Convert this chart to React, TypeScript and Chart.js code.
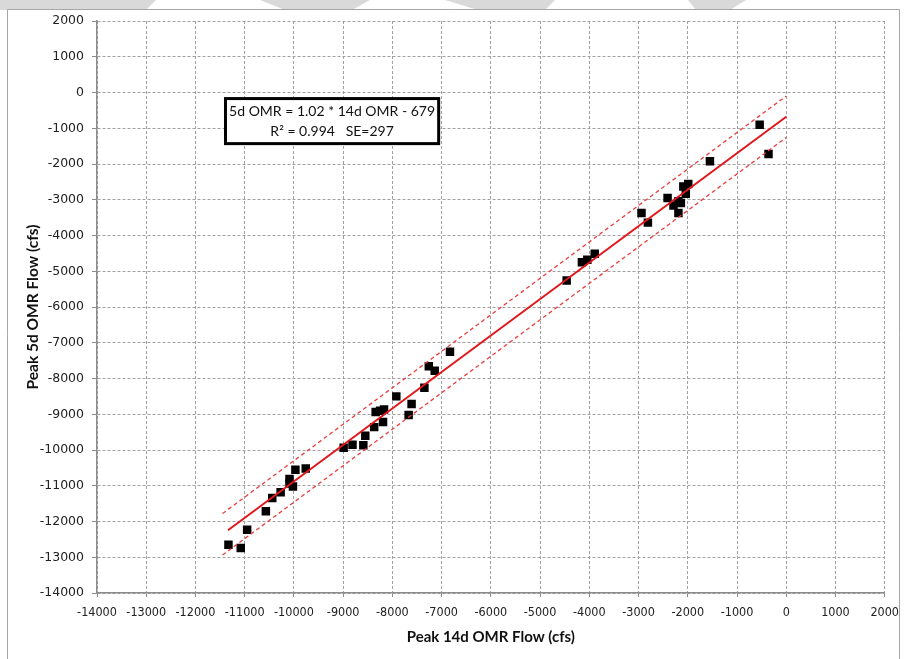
import React, { useEffect, useRef } from "react";
import { Chart, registerables } from "chart.js";

Chart.register(...registerables);

// Peak 14d OMR flow (cfs) — x values
const X_14D = [
  -11330, -11080, -10950, -10570, -10440, -10270, -10020, -10090, -10090, -9970, -9760,
  -8990, -8810, -8590, -8550, -8370, -8190, -8340, -8250, -8170, -7920, -7670, -7610,
  -7350, -7260, -7140, -6830,
  -4460, -4150, -4040, -3890,
  -2940, -2810, -2410, -2290, -2190, -2140, -2190, -2090, -1990, -2040,
  -1550, -540, -360,
];
// Peak 5d OMR flow (cfs) — y values
const Y_5D = [
  -12650, -12740, -12230, -11710, -11340, -11180, -11020, -10810, -10940, -10550, -10520,
  -9940, -9850, -9870, -9600, -9360, -9220, -8940, -8900, -8870, -8500, -9020, -8710,
  -8260, -7660, -7780, -7250,
  -5260, -4750, -4680, -4510,
  -3370, -3640, -2950, -3160, -3040, -3090, -3370, -2630, -2560, -2830,
  -1920, -900, -1720,
];

// Regression as printed on the chart
const TREND_SLOPE = 1.02;
const TREND_INTERCEPT = -679;
const TREND_X = [-11340, 0];
const BAND_X = [-11450, 0];
const BAND_HALF_WIDTH = 580;

const EQ_LINE_1 = "5d OMR = 1.02 * 14d OMR - 679";
const EQ_LINE_2 = "R\u00B2 = 0.994   SE=297";
// annotation box anchor (data units)
const BOX_X = [-11390, -7060];
const BOX_Y = [-170, -1430];

const X_TICK_MIN = -14000;
const X_TICK_MAX = 2000;
const Y_TICK_MIN = -14000;
const Y_TICK_MAX = 2000;
const TICK_STEP = 1000;

const X_TITLE = "Peak 14d OMR Flow (cfs)";
const Y_TITLE = "Peak 5d OMR Flow (cfs)";

const trend = (x: number) => TREND_SLOPE * x + TREND_INTERCEPT;
const plain = (v: any) => String(v);

export default function App() {
  const ref = useRef<HTMLCanvasElement>(null);

  useEffect(() => {
    document.body.style.margin = "0";
    const canvas = ref.current!;
    const points = X_14D.map((x, i) => ({ x, y: Y_5D[i] }));

    const framePlugin = {
      id: "frame",
      beforeDraw(chart: any) {
        const ctx = chart.ctx;
        ctx.save();
        ctx.fillStyle = "#ffffff";
        ctx.fillRect(0, 0, chart.width, chart.height);
        // faint watermark pieces at top edge
        ctx.fillStyle = "#d9d9d9";
        const shapes = [
          [[0, 0], [156, 0], [146, 10], [0, 10]],
          [[260, 0], [370, 0], [352, 10], [285, 10]],
          [[445, 0], [555, 0], [545, 10], [478, 10]],
          [[688, 0], [746, 0], [730, 10], [696, 10]],
        ];
        for (const s of shapes) {
          ctx.beginPath();
          ctx.moveTo(s[0][0], s[0][1]);
          for (let k = 1; k < s.length; k++) ctx.lineTo(s[k][0], s[k][1]);
          ctx.closePath();
          ctx.fill();
        }
        ctx.strokeStyle = "#a6a6a6";
        ctx.lineWidth = 1;
        ctx.beginPath();
        ctx.moveTo(7.5, chart.height);
        ctx.lineTo(7.5, 9.5);
        ctx.lineTo(899.5, 9.5);
        ctx.lineTo(899.5, chart.height);
        ctx.stroke();
        ctx.restore();
      },
    };

    const boxPlugin = {
      id: "eqbox",
      afterDatasetsDraw(chart: any) {
        const ctx = chart.ctx;
        const xs = chart.scales.x;
        const ys = chart.scales.y;
        const l = xs.getPixelForValue(BOX_X[0]);
        const r = xs.getPixelForValue(BOX_X[1]);
        const t = ys.getPixelForValue(BOX_Y[0]);
        const b = ys.getPixelForValue(BOX_Y[1]);
        ctx.save();
        ctx.fillStyle = "#ffffff";
        ctx.fillRect(l, t, r - l, b - t);
        ctx.strokeStyle = "#000000";
        ctx.lineWidth = 3;
        ctx.strokeRect(l, t, r - l, b - t);
        ctx.fillStyle = "#111111";
        ctx.textAlign = "center";
        ctx.textBaseline = "middle";
        const cx = (l + r) / 2;
        const h = b - t;
        ctx.font = "14px Lato, sans-serif";
        ctx.fillText(EQ_LINE_1, cx, t + h * 0.28);
        ctx.fillText(EQ_LINE_2, cx, t + h * 0.72);
        ctx.restore();
      },
    };

    const chart = new Chart(canvas, {
      type: "scatter",
      data: {
        datasets: [
          {
            type: "line",
            data: TREND_X.map((x) => ({ x, y: trend(x) })),
            borderColor: "#e3161b",
            borderWidth: 2,
            pointRadius: 0,
            fill: false,
          },
          {
            type: "line",
            data: BAND_X.map((x) => ({ x, y: trend(x) + BAND_HALF_WIDTH })),
            borderColor: "#ec3c3c",
            borderWidth: 1.3,
            borderDash: [4, 3],
            pointRadius: 0,
            fill: false,
          },
          {
            type: "line",
            data: BAND_X.map((x) => ({ x, y: trend(x) - BAND_HALF_WIDTH })),
            borderColor: "#ec3c3c",
            borderWidth: 1.3,
            borderDash: [4, 3],
            pointRadius: 0,
            fill: false,
          },
          {
            data: points,
            pointStyle: "rect",
            pointRadius: 6,
            backgroundColor: "#000000",
            borderColor: "#000000",
            borderWidth: 0,
          },
        ],
      } as any,
      options: {
        responsive: false,
        animation: false,
        layout: { padding: { top: 21, right: 12, left: 0, bottom: 0 } },
        plugins: {
          legend: { display: false },
          tooltip: { enabled: false },
        },
        scales: {
          x: {
            type: "linear",
            min: X_TICK_MIN,
            max: X_TICK_MAX,
            afterFit: (s: any) => {
              s.height = 66;
            },
            ticks: {
              stepSize: TICK_STEP,
              callback: plain,
              color: "#222",
              padding: 8,
              maxRotation: 0,
              autoSkip: false,
              font: { family: "'Liberation Sans Narrow', 'DejaVu Sans Condensed', Roboto, sans-serif", size: 12.5 },
            },
            grid: { color: "#a0a0a0", lineWidth: 1, tickLength: 4, tickColor: "#8c8c8c" },
            border: { display: true, color: "#8c8c8c", width: 1.5, dash: [3, 2] },
            title: {
              display: true,
              text: X_TITLE,
              color: "#111",
              font: { family: "Lato, sans-serif", size: 15, weight: "bold" },
              padding: { top: 0, bottom: 13 },
            },
          },
          y: {
            type: "linear",
            min: Y_TICK_MIN,
            max: Y_TICK_MAX,
            afterFit: (s: any) => {
              s.width = 97;
            },
            ticks: {
              stepSize: TICK_STEP,
              callback: plain,
              color: "#222",
              padding: 8,
              autoSkip: false,
              font: { family: "'DejaVu Sans', sans-serif", size: 12.5 },
            },
            grid: { color: "#a0a0a0", lineWidth: 1, tickLength: 5, tickColor: "#8c8c8c" },
            border: { display: true, color: "#8c8c8c", width: 1.5, dash: [3, 2] },
            title: {
              display: true,
              text: Y_TITLE,
              color: "#111",
              font: { family: "Lato, sans-serif", size: 15.5, weight: "bold" },
              padding: { top: 24, bottom: 0 },
            },
          },
        },
      } as any,
      plugins: [framePlugin, boxPlugin],
    });
    return () => chart.destroy();
  }, []);

  return (
    <div style={{ width: 907, height: 659 }}>
      <canvas ref={ref} width={907} height={659} style={{ display: "block", width: 907, height: 659 }} />
    </div>
  );
}
